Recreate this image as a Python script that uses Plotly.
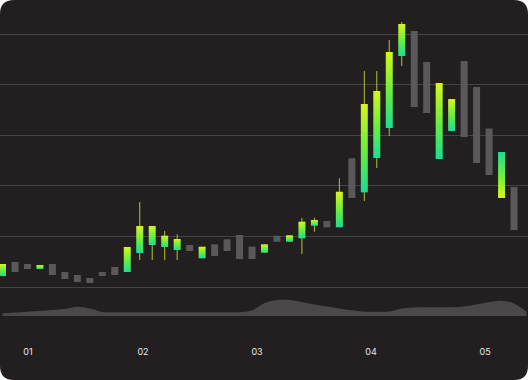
import plotly.graph_objects as go

# ---- data ----
opens  = [2.17, 4.94, 4.55, 3.56, 4.55, 2.96, 2.37, 1.78, 2.96, 3.95,
          2.96, 6.72, 8.30, 7.91, 7.31, 8.30, 5.67, 8.44, 9.43, 10.28,
          7.98, 6.78, 10.14, 8.95, 9.62, 12.11, 13.04, 11.80, 25.45, 18.71,
          25.49, 31.42, 45.65, 50.59, 44.47, 25.30, 30.83, 44.66, 39.53, 31.32,
          26.68, 19.76]
closes = [4.55, 2.96, 3.56, 4.35, 2.37, 1.58, 0.99, 0.79, 2.17, 2.37,
          7.91, 12.06, 12.06, 10.14, 9.49, 7.11, 7.96, 6.13, 7.11, 5.53,
          5.53, 8.44, 8.95, 10.22, 12.91, 13.24, 11.80, 18.83, 17.59, 36.17,
          38.74, 46.44, 51.98, 35.57, 34.39, 40.32, 37.15, 29.64, 24.51, 22.13,
          17.59, 11.26]
highs  = [4.55, 4.94, 4.55, 4.35, 4.55, 2.96, 2.37, 1.78, 2.96, 3.95,
          7.91, 16.80, 12.06, 11.07, 10.38, 8.30, 7.96, 8.44, 9.43, 10.28,
          7.98, 8.44, 10.14, 10.22, 13.64, 13.70, 13.04, 21.48, 25.45, 42.69,
          42.69, 48.81, 52.37, 50.59, 44.47, 40.32, 37.15, 44.66, 39.53, 31.32,
          26.68, 19.76]
lows   = [2.17, 2.96, 3.56, 3.56, 2.37, 1.58, 0.99, 0.79, 2.17, 2.37,
          2.96, 5.34, 5.34, 5.34, 5.34, 7.11, 5.67, 6.13, 7.11, 5.53,
          5.53, 6.78, 8.95, 8.95, 6.52, 10.93, 11.80, 11.80, 17.59, 17.00,
          23.52, 29.84, 43.68, 35.57, 34.39, 25.30, 30.83, 29.64, 24.51, 22.13,
          17.59, 11.26]
highlight = [1, 0, 0, 1, 0, 0, 0, 0, 0, 0,
             1, 1, 1, 1, 1, 0, 1, 0, 0, 0,
             0, 1, 0, 1, 1, 1, 0, 1, 0, 1,
             1, 1, 1, 0, 0, 1, 1, 0, 0, 0,
             1, 0]
volume = [27, 35, 43, 50, 60, 70, 93, 75, 40, 37,
          37, 37, 37, 37, 37, 37, 37, 37, 37, 38,
          55, 130, 160, 160, 140, 115, 95, 75, 57, 43,
          43, 45, 75, 85, 87, 87, 87, 95, 115, 140,
          153, 125, 43]
tick_pos = [2.04, 11.26, 20.4, 29.54, 38.68]
tick_labels = ["01", "02", "03", "04", "05"]

BG = "#231f20"
GRID = "#464344"
GRAY = "#5a5859"
WICK = "#b2c432"
GRAD = [[0, "#1ade94"], [0.5, "#6fee3a"], [1, "#d6f51c"]]
HW = 0.28

n = len(opens)
xs = list(range(n))

fig = go.Figure()

# volume area
fig.add_trace(go.Scatter(
    x=list(range(len(volume))), y=volume, yaxis="y2", mode="lines",
    line=dict(color="#4a4849", width=0, shape="spline", smoothing=1.0),
    fill="tozeroy", fillcolor="#4a4849", hoverinfo="skip", showlegend=False))

# wicks (only on highlighted candles)
wx, wy = [], []
for i in xs:
    if highlight[i]:
        wx += [i, i, None]
        wy += [lows[i], highs[i], None]
fig.add_trace(go.Scatter(x=wx, y=wy, mode="lines",
                         line=dict(color=WICK, width=1), hoverinfo="skip",
                         showlegend=False))

# gray candles
for i in xs:
    if highlight[i]:
        continue
    o, c = opens[i], closes[i]
    fig.add_trace(go.Scatter(
        x=[i - HW, i + HW, i + HW, i - HW, i - HW],
        y=[o, o, c, c, o], mode="lines", fill="toself", fillcolor=GRAY,
        line=dict(width=0, color="rgba(0,0,0,0)"),
        hoverinfo="skip", showlegend=False))

# highlighted gradient candles
for i in xs:
    if not highlight[i]:
        continue
    o, c = opens[i], closes[i]
    fig.add_trace(go.Scatter(
        x=[i - HW, i + HW, i + HW, i - HW, i - HW],
        y=[o, o, c, c, o], mode="lines", fill="toself",
        line=dict(width=0, color="rgba(0,0,0,0)"),
        fillgradient=dict(type="vertical", colorscale=GRAD, start=o, stop=c),
        hoverinfo="skip", showlegend=False))

W, H, B = 528, 380, 35
ph = H - B
x0, x1, y0, y1 = 0, 1, -B / ph, 1
rx, ry = 14 / W, 14 / ph
path = (f"M {x0+rx},{y1} L {x1-rx},{y1} Q {x1},{y1} {x1},{y1-ry} "
        f"L {x1},{y0+ry} Q {x1},{y0} {x1-rx},{y0} L {x0+rx},{y0} "
        f"Q {x0},{y0} {x0},{y0+ry} L {x0},{y1-ry} Q {x0},{y1} {x0+rx},{y1} Z")

fig.update_layout(
    width=W, height=H, margin=dict(l=0, r=0, t=0, b=B),
    paper_bgcolor="white", plot_bgcolor="rgba(0,0,0,0)",
    showlegend=False,
    shapes=[dict(type="path", xref="paper", yref="paper", path=path,
                 fillcolor=BG, line=dict(width=0), layer="below")],
    xaxis=dict(range=[-0.2, 42.12], showgrid=False, zeroline=False,
               showline=False, tickvals=tick_pos, ticktext=tick_labels,
               ticks="", tickfont=dict(family="Inter", size=9, color="#e6e6e6")),
    yaxis=dict(range=[-11.46, 56.72], tickvals=[0, 10, 20, 30, 40, 50],
               showticklabels=False, showgrid=True, gridcolor=GRID,
               gridwidth=1, zeroline=False, showline=False),
    yaxis2=dict(range=[-290, 3160], overlaying="y", showgrid=False,
                showticklabels=False, zeroline=False, showline=False),
)

fig.write_html("out.html", config={"displayModeBar": False},
               post_script="document.body.style.margin='0';")
